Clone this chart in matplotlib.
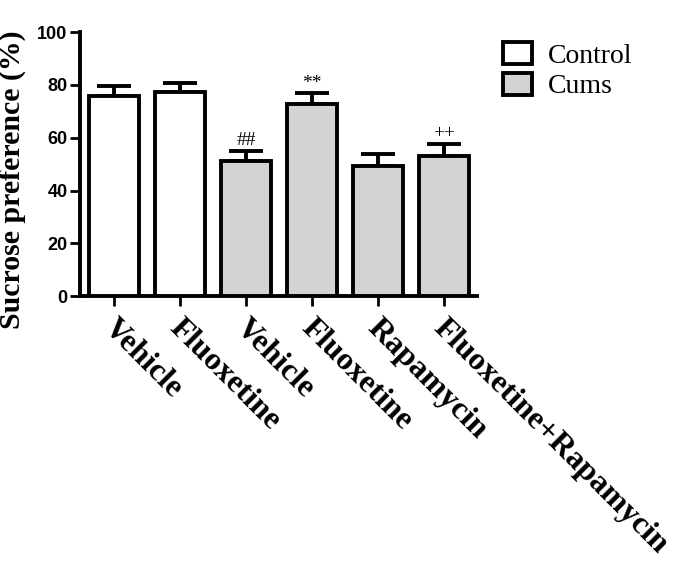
import matplotlib

matplotlib.use("Agg")
import matplotlib.pyplot as plt
import matplotlib.transforms as mtransforms


groups = ["Vehicle", "Fluoxetine", "Vehicle", "Fluoxetine", "Rapamycin", "Fluoxetine+Rapamycin"]
means = [75.9, 77.2, 51.1, 72.6, 49.4, 53.1]
sem = [3.8, 3.6, 3.9, 4.2, 4.3, 4.5]
is_cums = [False, False, True, True, True, True]
marks = ["", "", "##", "**", "", "++"]

fig = plt.figure(figsize=(6.75, 5.64), dpi=100)
ax = fig.add_axes([0.1185, 0.475, 0.588, 0.468])

x = list(range(len(groups)))
colors = ["#d3d3d3" if c else "white" for c in is_cums]
ax.bar(x, means, width=0.76, color=colors, edgecolor="black", linewidth=2.8, zorder=3)
ax.errorbar(x, means, yerr=[[0] * len(sem), sem], fmt="none", ecolor="black",
            elinewidth=2.8, capsize=12, capthick=2.8, zorder=2)

for xi, m, s, lab in zip(x, means, sem, marks):
    if lab:
        ax.text(xi, m + s + 0.6, lab, ha="center", va="bottom",
                fontsize=14, family="Liberation Serif")

# legend
ax.bar([0], [0], color="white", edgecolor="black", linewidth=2.8, label="Control")
ax.bar([0], [0], color="#d3d3d3", edgecolor="black", linewidth=2.8, label="Cums")
fig.legend(loc="upper left", bbox_to_anchor=(503 / 675, 1 - 42 / 564), frameon=False,
           prop={"family": "Liberation Serif", "size": 20},
           handlelength=1.05, handleheight=0.85, handletextpad=0.55, labelspacing=0.14,
           borderpad=0, borderaxespad=0)

ax.set_xlim(-0.515, 5.5)
ax.set_ylim(0, 100)
ax.set_yticks([0, 20, 40, 60, 80, 100])
ax.set_xticks(x)
ax.set_xticklabels([])
# rotated group labels, nudged right of the tick like the original
offset = mtransforms.ScaledTranslation(4 / 100, -17 / 100, fig.dpi_scale_trans)
for xi, name in zip(x, groups):
    ax.text(xi, 0, name, transform=ax.get_xaxis_transform() + offset,
            rotation=-45, ha="left", va="top", rotation_mode="anchor",
            fontsize=23, fontweight="bold", family="Liberation Serif")
for lbl in ax.get_yticklabels():
    lbl.set_fontfamily("Liberation Sans")
    lbl.set_fontweight("bold")
    lbl.set_fontsize(13)

ax.set_ylabel("Sucrose preference (%)", fontsize=21.5, fontweight="bold",
              family="Liberation Serif")
ax.yaxis.set_label_coords(-0.135, 0.44)

for side in ["top", "right"]:
    ax.spines[side].set_visible(False)
for side in ["left", "bottom"]:
    ax.spines[side].set_linewidth(2.8)
ax.tick_params(axis="both", width=2, length=7, direction="out")
ax.tick_params(axis="y", pad=2)

fig.savefig("out.png", dpi=100)
